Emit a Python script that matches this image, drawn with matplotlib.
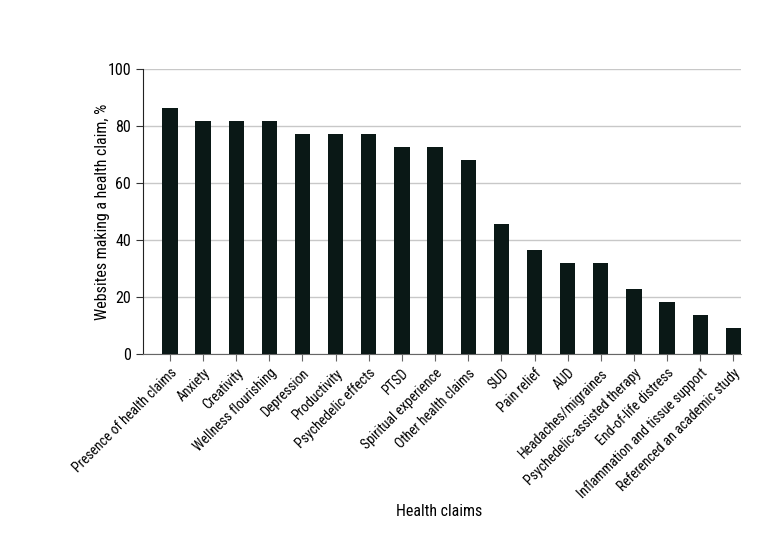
import matplotlib
matplotlib.use("Agg")
import matplotlib.pyplot as plt
from matplotlib import font_manager

names = {f.name for f in font_manager.fontManager.ttflist}
narrow = None
for n in ['Liberation Sans Narrow', 'Roboto Condensed', 'Open Sans Condensed', 'Noto Sans Condensed']:
    if n in names:
        narrow = n
        break
if narrow:
    fam = [narrow, 'DejaVu Sans']
    lab_size = 10
else:
    fam = ['Lato', 'DejaVu Sans']
    lab_size = 9
plt.rcParams['font.family'] = fam

claims = ['Presence of health claims', 'Anxiety', 'Creativity', 'Wellness flourishing',
          'Depression', 'Productivity', 'Psychedelic effects', 'PTSD',
          'Spiritual experience', 'Other health claims', 'SUD', 'Pain relief', 'AUD',
          'Headaches/migraines', 'Psychedelic-assisted therapy', 'End-of-life distress',
          'Inflammation and tissue support', 'Referenced an academic study']
pct = [86.4, 81.8, 81.8, 81.8, 77.3, 77.3, 77.3, 72.7, 72.7, 68.2,
       45.5, 36.4, 31.8, 31.8, 22.7, 18.2, 13.6, 9.1]

fig = plt.figure(figsize=(7.8, 5.44), dpi=100)
ax = fig.add_axes([0.183, 0.349, 0.767, 0.524])
x = range(len(claims))
ax.bar(x, pct, width=0.46, color='#0a1816', zorder=3)

ax.set_ylim(0, 100)
ax.set_xlim(-0.82, 17.23)
ax.set_yticks(range(0, 101, 20))
ax.yaxis.grid(True, color='#c8c8c8', linewidth=1, zorder=0)
ax.set_xticks(list(x))
ax.set_xticklabels(claims, rotation=45, ha='right', rotation_mode='anchor', fontsize=lab_size)
ax.tick_params(axis='y', labelsize=lab_size + 1.5, length=5, color='#333333')
ax.tick_params(axis='x', length=5, color='#666666')
for s in ['top', 'right']:
    ax.spines[s].set_visible(False)
ax.spines['left'].set_color('#222222')
ax.spines['bottom'].set_color('#666666')

ax.set_ylabel('Websites making a health claim, %', fontsize=lab_size + 1.5)
ax.yaxis.set_label_coords(-0.054, 0.5)
fig.text(0.5635, 0.06, 'Health claims', ha='center', va='center', fontsize=lab_size + 1.5)

fig.savefig('out.png', dpi=100)
